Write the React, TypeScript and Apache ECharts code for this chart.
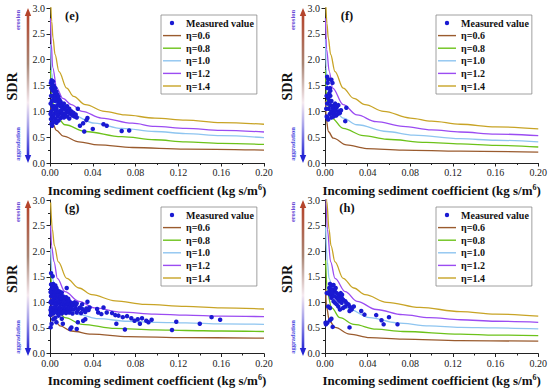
import React, { useEffect, useRef } from "react";
import * as echarts from "echarts";

type P = [number, number];

const xTicks = [0, 0.04, 0.08, 0.12, 0.16, 0.2];
const yTicks = [0, 0.5, 1.0, 1.5, 2.0, 2.5, 3.0];
const panelLabels = ["(e)", "(f)", "(g)", "(h)"];
const seriesNames = ["Measured value", "η=0.6", "η=0.8", "η=1.0", "η=1.2", "η=1.4"];
const lineColors = ["#9a5b2e", "#6cc21a", "#8ec5f0", "#9b4cf2", "#c8a426"];

// ---- panel (e) ----
const eEta06: P[] = [[0.0005,1.2],[0.0012,0.95],[0.0025,0.76],[0.006,0.63],[0.0125,0.52],[0.027,0.41],[0.045,0.35],[0.077,0.30],[0.127,0.27],[0.2,0.25]];
const eEta08: P[] = [[0.0005,1.8],[0.0015,1.3],[0.0047,0.95],[0.014,0.74],[0.033,0.61],[0.067,0.51],[0.098,0.45],[0.127,0.41],[0.16,0.38],[0.2,0.36]];
const eEta10: P[] = [[0.0005,2.3],[0.0015,1.75],[0.004,1.35],[0.0078,1.13],[0.02,0.93],[0.042,0.77],[0.067,0.67],[0.098,0.61],[0.127,0.57],[0.16,0.53],[0.2,0.49]];
const eEta12: P[] = [[0.0005,2.8],[0.0012,2.3],[0.0025,1.85],[0.0063,1.45],[0.012,1.25],[0.02,1.13],[0.03,1.0],[0.048,0.87],[0.077,0.77],[0.098,0.71],[0.127,0.67],[0.16,0.63],[0.2,0.60]];
const eEta14: P[] = [[0.0005,3.25],[0.0016,2.74],[0.0028,2.42],[0.0047,2.10],[0.0084,1.77],[0.0156,1.45],[0.022,1.29],[0.033,1.13],[0.051,1.0],[0.07,0.93],[0.098,0.87],[0.127,0.83],[0.16,0.78],[0.2,0.75]];
const ePoints: P[] = [
  [0.0008,1.55],[0.0012,1.45],[0.0015,1.6],[0.002,1.52],[0.0025,1.4],[0.001,1.3],[0.0018,1.2],[0.0022,1.1],[0.0012,1.0],[0.0016,0.92],[0.0009,0.85],[0.0025,0.78],[0.002,0.72],[0.003,0.88],[0.0014,0.76],[0.003,1.3],[0.0028,1.58],[0.0032,1.45],[0.0026,1.22],[0.003,1.05],[0.0006,1.15],[0.0005,0.95],
  [0.0035,1.5],[0.004,1.42],[0.0045,1.35],[0.005,1.45],[0.0055,1.3],[0.006,1.38],[0.0065,1.25],[0.007,1.32],[0.0075,1.2],[0.008,1.28],[0.0085,1.15],[0.009,1.22],[0.0095,1.1],[0.01,1.18],[0.011,1.12],[0.012,1.05],[0.013,1.15],[0.014,1.08],[0.015,1.02],[0.016,1.1],[0.017,0.98],[0.018,1.05],[0.019,0.95],[0.02,1.0],[0.021,0.92],[0.022,0.97],[0.023,0.9],[0.024,0.94],[0.026,1.05],[0.025,0.88],
  [0.004,0.95],[0.005,0.85],[0.006,0.78],[0.007,0.9],[0.008,0.82],[0.009,0.95],[0.01,0.87],[0.004,1.1],[0.005,1.2],[0.006,1.05],[0.007,1.12],[0.0035,0.8],[0.012,0.92],[0.014,0.95],[0.011,0.98],[0.0045,1.25],[0.0055,1.0],[0.0065,0.95],[0.0085,1.0],[0.0105,1.02],[0.013,0.88],[0.016,0.9],[0.018,0.86],
  [0.028,0.72],[0.031,0.77],[0.032,0.61],[0.034,0.83],[0.035,0.87],[0.04,0.66],[0.05,0.75],[0.053,0.72],[0.067,0.62],[0.074,0.63]
];

// ---- panel (f) ----
const fEta06: P[] = [[0.0005,1.2],[0.0012,0.85],[0.0031,0.61],[0.0078,0.48],[0.02,0.35],[0.039,0.28],[0.073,0.25],[0.127,0.23],[0.2,0.21]];
const fEta08: P[] = [[0.0005,1.8],[0.001,1.4],[0.0022,1.13],[0.0063,0.87],[0.017,0.67],[0.036,0.53],[0.058,0.46],[0.095,0.40],[0.127,0.37],[0.16,0.34],[0.2,0.31]];
const fEta10: P[] = [[0.0005,2.4],[0.001,1.85],[0.0022,1.45],[0.0063,1.13],[0.017,0.87],[0.03,0.74],[0.058,0.61],[0.083,0.54],[0.127,0.47],[0.16,0.44],[0.2,0.41]];
const fEta12: P[] = [[0.0005,2.8],[0.0015,2.2],[0.004,1.77],[0.0072,1.45],[0.017,1.13],[0.03,0.93],[0.048,0.80],[0.073,0.71],[0.10,0.64],[0.127,0.60],[0.16,0.56],[0.2,0.53]];
const fEta14: P[] = [[0.0008,3.1],[0.0018,2.7],[0.0031,2.42],[0.0053,2.10],[0.0094,1.77],[0.017,1.45],[0.027,1.25],[0.0375,1.13],[0.055,1.0],[0.08,0.87],[0.10,0.81],[0.127,0.75],[0.16,0.70],[0.2,0.66]];
const fPoints: P[] = [
  [0.0016,0.9],[0.002,0.88],[0.003,0.84],[0.0012,1.05],[0.002,1.15],[0.0015,1.3],[0.002,1.45],[0.0025,1.55],[0.002,1.67],[0.003,1.62],[0.006,1.61],[0.007,1.55],[0.0047,1.45],[0.004,1.35],[0.005,1.3],[0.003,1.25],[0.004,1.2],[0.005,1.12],[0.006,1.2],[0.0035,1.05],
  [0.0045,0.95],[0.006,1.0],[0.007,1.08],[0.0075,0.95],[0.008,1.05],[0.0085,1.12],[0.009,0.98],[0.01,1.02],[0.0105,0.92],[0.011,1.08],[0.012,0.95],[0.013,1.0],[0.014,0.97],[0.0125,1.12],[0.008,0.9],[0.006,0.88],[0.015,1.02],[0.019,0.81],[0.02,1.07],[0.0095,1.15],[0.005,1.4]
];

// ---- panel (g) ----
const gEta06: P[] = [[0.0006,1.21],[0.0015,0.9],[0.0031,0.70],[0.0094,0.54],[0.02,0.44],[0.039,0.38],[0.073,0.33],[0.127,0.31],[0.2,0.30]];
const gEta08: P[] = [[0.0006,1.6],[0.0022,1.15],[0.0063,0.89],[0.014,0.70],[0.03,0.57],[0.061,0.49],[0.098,0.46],[0.127,0.45],[0.16,0.44],[0.2,0.43]];
const gEta10: P[] = [[0.0006,2.05],[0.0022,1.47],[0.0063,1.15],[0.0156,0.89],[0.027,0.76],[0.045,0.68],[0.073,0.63],[0.1,0.61],[0.127,0.60],[0.16,0.58],[0.2,0.57]];
const gEta12: P[] = [[0.0006,2.5],[0.0015,2.1],[0.0038,1.79],[0.0069,1.47],[0.014,1.21],[0.027,1.02],[0.042,0.89],[0.067,0.81],[0.098,0.77],[0.127,0.75],[0.16,0.73],[0.2,0.72]];
const gEta14: P[] = [[0.0006,2.95],[0.0022,2.43],[0.0041,2.11],[0.0078,1.79],[0.0156,1.47],[0.027,1.28],[0.039,1.15],[0.061,1.03],[0.089,0.96],[0.127,0.92],[0.16,0.89],[0.2,0.87]];
const gPoints: P[] = [
  [0.001,1.35],[0.002,1.32],[0.003,1.36],[0.004,1.3],[0.005,1.33],[0.006,1.28],
  [0.001,1.25],[0.002,1.22],[0.003,1.27],[0.004,1.2],[0.005,1.24],[0.006,1.2],[0.007,1.23],[0.008,1.18],[0.009,1.21],[0.01,1.16],[0.011,1.19],
  [0.001,1.12],[0.002,1.15],[0.003,1.1],[0.004,1.14],[0.005,1.08],[0.006,1.12],[0.007,1.1],[0.008,1.13],[0.009,1.07],[0.01,1.1],[0.011,1.06],[0.012,1.12],[0.013,1.08],[0.014,1.05],[0.015,1.1],[0.016,1.04],[0.017,1.07],
  [0.001,1.02],[0.002,0.98],[0.003,1.03],[0.004,0.97],[0.005,1.0],[0.006,0.96],[0.007,1.02],[0.008,0.98],[0.009,1.0],[0.01,0.95],[0.011,1.0],[0.012,0.97],[0.013,1.01],[0.014,0.96],[0.015,0.99],[0.016,0.95],[0.017,0.98],[0.018,1.02],[0.019,0.96],[0.02,0.99],[0.021,0.94],[0.022,0.97],[0.023,1.0],[0.024,0.95],[0.025,0.98],
  [0.001,0.9],[0.002,0.86],[0.003,0.89],[0.004,0.85],[0.005,0.9],[0.006,0.87],[0.007,0.84],[0.008,0.89],[0.009,0.86],[0.01,0.88],[0.011,0.84],[0.012,0.87],[0.013,0.9],[0.014,0.85],[0.015,0.88],[0.016,0.84],[0.017,0.87],[0.018,0.9],[0.019,0.85],[0.02,0.88],[0.022,0.86],[0.024,0.89],[0.026,0.85],[0.028,0.9],[0.03,0.87],[0.032,0.84],[0.034,0.88],[0.036,0.85],
  [0.001,0.8],[0.003,0.78],[0.005,0.81],[0.007,0.79],[0.009,0.8],[0.011,0.78],[0.013,0.81],[0.015,0.79],[0.018,0.8],[0.021,0.78],[0.025,0.8],[0.029,0.79],[0.033,0.81],
  [0.0005,1.2],[0.0005,1.0],[0.0005,0.85],[0.0005,0.75],
  [0.001,1.57],[0.0025,1.51],[0.0156,1.28],[0.035,1.01],[0.03,0.96],
  [0.037,0.90],[0.044,0.87],[0.05,0.90],[0.045,0.80],[0.048,0.77],[0.053,0.80],[0.058,0.79],[0.061,0.75],[0.064,0.74],[0.068,0.71],[0.072,0.73],[0.076,0.69],[0.079,0.64],[0.082,0.67],[0.086,0.69],[0.09,0.64],[0.095,0.66],[0.084,0.58],[0.062,0.58],[0.07,0.47],[0.114,0.46],[0.118,0.62],[0.14,0.58],[0.151,0.71],[0.159,0.66],[0.092,0.61],
  [0.003,0.67],[0.006,0.61],[0.008,0.74],[0.012,0.58],[0.019,0.48],[0.02,0.51],[0.025,0.48],[0.026,0.61],[0.031,0.64],[0.033,0.67],[0.0006,0.51],[0.0015,0.58],[0.005,0.70],[0.011,0.68]
];

// ---- panel (h) ----
const hEta06: P[] = [[0.0006,1.25],[0.0015,0.9],[0.0041,0.64],[0.0094,0.51],[0.023,0.38],[0.042,0.31],[0.073,0.28],[0.127,0.25],[0.2,0.24]];
const hEta08: P[] = [[0.0006,1.82],[0.0025,1.15],[0.0063,0.89],[0.014,0.70],[0.027,0.57],[0.048,0.475],[0.073,0.43],[0.127,0.38],[0.16,0.36],[0.2,0.35]];
const hEta10: P[] = [[0.0006,2.47],[0.0022,1.79],[0.0038,1.47],[0.0084,1.15],[0.02,0.89],[0.042,0.70],[0.067,0.60],[0.098,0.54],[0.127,0.51],[0.16,0.50],[0.2,0.48]];
const hEta12: P[] = [[0.0005,3.3],[0.0009,2.95],[0.0022,2.43],[0.0053,1.79],[0.0094,1.47],[0.019,1.21],[0.03,1.02],[0.048,0.86],[0.073,0.76],[0.098,0.70],[0.127,0.66],[0.16,0.63],[0.2,0.61]];
const hEta14: P[] = [[0.0008,3.4],[0.0016,2.98],[0.0038,2.43],[0.0056,2.11],[0.0094,1.79],[0.017,1.47],[0.027,1.28],[0.0375,1.15],[0.058,1.0],[0.089,0.90],[0.127,0.82],[0.16,0.77],[0.2,0.73]];
const hPoints: P[] = [
  [0.0047,1.36],[0.006,1.33],[0.004,1.28],[0.008,1.25],[0.0094,1.21],[0.011,1.18],[0.0125,1.15],[0.014,1.12],[0.0156,1.09],[0.017,1.05],[0.019,1.02],[0.02,0.99],[0.022,0.96],[0.023,0.92],[0.025,0.89],[0.027,0.92],
  [0.0047,1.15],[0.006,1.09],[0.008,1.02],[0.0094,0.99],[0.011,0.96],[0.0125,0.92],[0.014,1.02],[0.0156,0.99],[0.017,0.89],[0.019,0.92],[0.011,1.09],[0.0125,1.05],[0.0053,1.21],[0.0072,1.18],[0.0084,1.12],
  [0.0047,0.89],[0.003,0.92],[0.0016,1.18],[0.014,0.86],[0.023,0.83],[0.025,0.86],[0.008,1.34],[0.01,1.28],[0.0147,1.18],[0.016,1.15],[0.006,1.25],[0.0035,1.2],
  [0.034,0.83],[0.037,0.76],[0.048,0.75],[0.053,0.65],[0.055,0.57],[0.06,0.71],[0.068,0.57],
  [0.0009,0.57],[0.0022,0.60],[0.0047,0.65],[0.0072,0.52],[0.023,0.51],[0.006,0.68],[0.0005,0.6]
];

const panelCurves: P[][][] = [
  [eEta06, eEta08, eEta10, eEta12, eEta14],
  [fEta06, fEta08, fEta10, fEta12, fEta14],
  [gEta06, gEta08, gEta10, gEta12, gEta14],
  [hEta06, hEta08, hEta10, hEta12, hEta14],
];
const panelPoints: P[][] = [ePoints, fPoints, gPoints, hPoints];

const SERIF = '"Liberation Serif", "DejaVu Serif", serif';
const grids = [
  { left: 50, right: 286, top: 8, bottom: 225 },
  { left: 325, right: 11, top: 8, bottom: 225 },
  { left: 50, right: 286, top: 200, bottom: 32 },
  { left: 325, right: 11, top: 200, bottom: 32 },
];

function buildOption() {
  const xAxis: any[] = [];
  const yAxis: any[] = [];
  const series: any[] = [];
  const legend: any[] = [];
  const graphic: any[] = [];
  const dotIcon = "path://M0,0 L0.01,0 M18,10 L18.01,10 M6.8,5 A2.2,2.2 0 1,0 11.2,5 A2.2,2.2 0 1,0 6.8,5 Z";
  const lineIcon = "path://M0,0 L18,0 L18,1.4 L0,1.4 Z";

  grids.forEach((g, i) => {
    xAxis.push({
      type: "value", gridIndex: i, min: xTicks[0], max: xTicks[xTicks.length - 1], interval: xTicks[1] - xTicks[0],
      name: "Incoming sediment coefficient (kg s/m{sup|6})", nameLocation: "middle", nameGap: 20,
      nameTextStyle: {
        fontFamily: SERIF, fontWeight: "bold", fontSize: 13, color: "#111",
        rich: { sup: { fontFamily: SERIF, fontWeight: "bold", fontSize: 8, color: "#111", verticalAlign: "top", padding: [0, 0, 6, 0] } },
      },
      axisLine: { lineStyle: { color: "#222", width: 1 } },
      axisTick: { length: 3.5, lineStyle: { color: "#222" } },
      minorTick: { show: true, splitNumber: 2, length: 2, lineStyle: { color: "#222" } },
      splitLine: { show: false },
      axisLabel: { fontFamily: SERIF, fontSize: 10, color: "#222", margin: 4.5, formatter: (v: number) => v.toFixed(2) },
    });
    yAxis.push({
      type: "value", gridIndex: i, min: yTicks[0], max: yTicks[yTicks.length - 1], interval: yTicks[1] - yTicks[0],
      axisLine: { show: true, lineStyle: { color: "#222", width: 1 } },
      axisTick: { show: true, length: 3.5, lineStyle: { color: "#222" } },
      minorTick: { show: true, splitNumber: 2, length: 2, lineStyle: { color: "#222" } },
      splitLine: { show: false },
      axisLabel: { fontFamily: SERIF, fontSize: 10, color: "#222", margin: 5, formatter: (v: number) => v.toFixed(1) },
    });
    series.push({
      type: "scatter", name: seriesNames[0], xAxisIndex: i, yAxisIndex: i, data: panelPoints[i],
      symbolSize: 4.5, itemStyle: { color: "#1a1ad2", opacity: 1 }, z: 4,
    });
    panelCurves[i].forEach((c, k) => {
      series.push({
        type: "line", name: seriesNames[k + 1], xAxisIndex: i, yAxisIndex: i, data: c,
        symbol: "none", smooth: 0.35, smoothMonotone: "x", clip: true,
        lineStyle: { color: lineColors[k], width: 1.3 }, itemStyle: { color: lineColors[k] }, z: 3,
      });
    });
    const lgLeft = i % 2 === 0 ? 161 : 436;
    const lgTop = i < 2 ? 15 : 207;
    legend.push({
      left: lgLeft, top: lgTop, orient: "vertical",
      padding: [3, 3, 3, 2], itemGap: 2.6, itemWidth: 18, itemHeight: 10,
      borderColor: "#888", borderWidth: 0.8, backgroundColor: "#fff",
      textStyle: { fontFamily: SERIF, fontWeight: "bold", fontSize: 10, color: "#111", lineHeight: 10 },
      data: seriesNames.map((n, k) => ({ name: n, icon: k === 0 ? dotIcon : lineIcon })),
    });

    const plotLeft = g.left;
    const plotTop = g.top;
    const plotBottom = 388 - g.bottom;
    const barX = plotLeft - 22;
    const cx = plotLeft - 38;
    graphic.push({
      type: "text", x: plotLeft + 22, y: plotTop + 8,
      style: { text: panelLabels[i], fontFamily: SERIF, fontWeight: "bold", fontSize: 12.5, fill: "#111", align: "center", verticalAlign: "middle" },
    });
    graphic.push({
      type: "text", x: cx, y: (plotTop + plotBottom) / 2 + 1, rotation: Math.PI / 2,
      style: { text: "SDR", fontFamily: SERIF, fontWeight: "bold", fontSize: 14, fill: "#111", align: "center", verticalAlign: "middle" },
    });
    graphic.push({
      type: "rect", shape: { x: barX - 1.3, y: plotTop + 6, width: 2.6, height: plotBottom - plotTop - 12 },
      style: {
        fill: new echarts.graphic.LinearGradient(0, 0, 0, 1, [
          { offset: 0, color: "#b5452c" },
          { offset: 0.35, color: "#a98574" },
          { offset: 0.62, color: "#f6eaf0" },
          { offset: 0.78, color: "#a7a2ea" },
          { offset: 1, color: "#2424d4" },
        ]),
      },
    });
    graphic.push({
      type: "polygon", shape: { points: [[barX, plotTop], [barX - 3.2, plotTop + 8], [barX + 3.2, plotTop + 8]] },
      style: { fill: "#b5452c" },
    });
    graphic.push({
      type: "polygon", shape: { points: [[barX, plotBottom], [barX - 3.2, plotBottom - 8], [barX + 3.2, plotBottom - 8]] },
      style: { fill: "#2424d4" },
    });
    graphic.push({
      type: "text", x: plotLeft - 33, y: plotTop + 12, rotation: Math.PI / 2,
      style: { text: "erosion", fontFamily: SERIF, fontWeight: "bold", fontSize: 6.5, fill: "#6a4cd6", align: "center", verticalAlign: "middle" },
    });
    graphic.push({
      type: "text", x: plotLeft - 33, y: plotBottom - 19, rotation: Math.PI / 2,
      style: { text: "aggradation", fontFamily: SERIF, fontWeight: "bold", fontSize: 6.5, fill: "#4a48e0", align: "center", verticalAlign: "middle" },
    });
  });

  return {
    animation: false,
    backgroundColor: "#fff",
    grid: grids,
    xAxis, yAxis, series, legend, graphic,
  };
}

export default function App() {
  const ref = useRef<HTMLDivElement>(null);
  useEffect(() => {
    if (!ref.current) return;
    const chart = echarts.init(ref.current, undefined, { renderer: "svg" });
    chart.setOption(buildOption() as any);
    return () => chart.dispose();
  }, []);
  return <div ref={ref} style={{ position: "fixed", left: 0, top: 0, width: 550, height: 388, background: "#fff" }} />;
}
